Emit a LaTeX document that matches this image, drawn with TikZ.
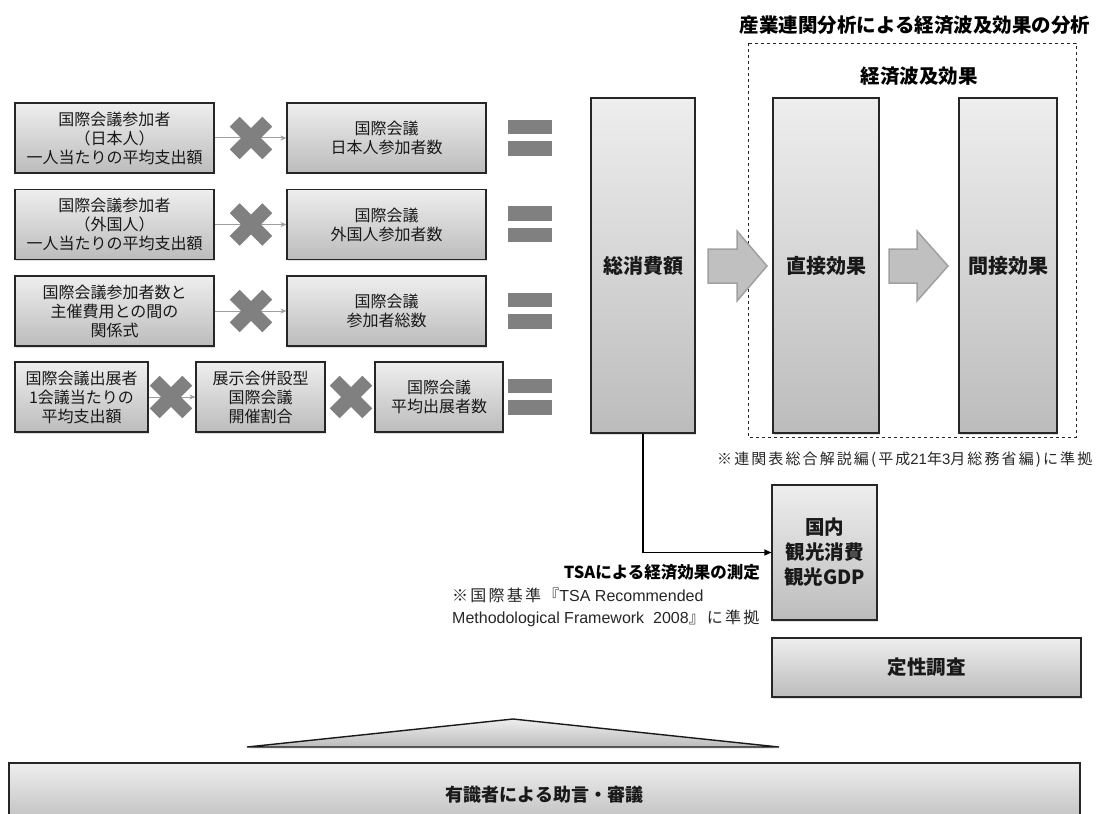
\documentclass[tikz,border=0pt]{standalone}
\usepackage{fontspec}
\setmainfont{Noto Sans CJK JP}
\newfontfamily\lat{Liberation Sans}
\newfontfamily\jpsp{Noto Sans CJK JP}[LetterSpace=14]
\usetikzlibrary{shadows,arrows.meta}
\definecolor{boxtop}{RGB}{238,238,238}
\definecolor{boxbot}{RGB}{188,188,188}
\definecolor{markgray}{RGB}{128,128,128}
\definecolor{linegray}{RGB}{158,158,158}
\definecolor{arrowfill}{RGB}{192,192,192}
\definecolor{arrowedge}{RGB}{160,160,160}
\tikzset{
  gbox/.style={draw=black!85, line width=1.1pt, top color=boxtop, bottom color=boxbot,
    drop shadow={opacity=0.25, shadow xshift=1.2pt, shadow yshift=-1.5pt},
    inner sep=0pt, align=center, text=black!90},
  smalltxt/.style={font=\fontsize{16}{19}\selectfont},
  bigtxt/.style={font=\fontsize{20}{25}\selectfont\bfseries},
  eqbar/.style={fill=markgray, draw=none, minimum width=44pt, minimum height=14.5pt, inner sep=0pt},
  rowline/.style={draw=linegray, line width=1pt, -{Stealth[length=6pt,width=5pt]}},
  conn/.style={draw=black, line width=1.1pt, -{Triangle[length=7pt,width=6pt]}},
  blockarrow/.style={fill=arrowfill, draw=arrowedge, line width=1.5pt, line join=miter},
  xmark/.pic={
    \fill[markgray, rotate=45] (-23,-7) rectangle (23,7);
    \fill[markgray, rotate=-45] (-23,-7) rectangle (23,7);
  }
}
\begin{document}
\begin{tikzpicture}[x=1pt,y=-1pt]
\useasboundingbox (0,0) rectangle (1115,813);
\clip (0,0) rectangle (1115,813);

% ---- left rows ----
\node[gbox, smalltxt, minimum width=199pt, minimum height=70pt] (r1a) at (114.5,138) {国際会議参加者\\（日本人）\\一人当たりの平均支出額};
\node[gbox, smalltxt, minimum width=199pt, minimum height=70pt] (r1b) at (386.5,138) {国際会議\\日本人参加者数};
\node[gbox, smalltxt, minimum width=199pt, minimum height=70pt] (r2a) at (114.5,224.5) {国際会議参加者\\（外国人）\\一人当たりの平均支出額};
\node[gbox, smalltxt, minimum width=199pt, minimum height=70pt] (r2b) at (386.5,224.5) {国際会議\\外国人参加者数};
\node[gbox, smalltxt, minimum width=199pt, minimum height=70pt] (r3a) at (114.5,311) {国際会議参加者数と\\主催費用との間の\\関係式};
\node[gbox, smalltxt, minimum width=199pt, minimum height=70pt] (r3b) at (386.5,311) {国際会議\\参加者総数};
\node[gbox, smalltxt, minimum width=133pt, minimum height=70pt] (r4a) at (81.5,397) {国際会議出展者\\1会議当たりの\\平均支出額};
\node[gbox, smalltxt, minimum width=129pt, minimum height=70pt] (r4b) at (260.5,397) {展示会併設型\\国際会議\\開催割合};
\node[gbox, smalltxt, minimum width=128pt, minimum height=70pt] (r4c) at (439,397) {国際会議\\平均出展者数};

\draw[rowline] (r1a.east) -- (r1b.west);
\draw[rowline] (r2a.east) -- (r2b.west);
\draw[rowline] (r3a.east) -- (r3b.west);
\draw[rowline] (r4a.east) -- (r4b.west);

\pic at (251,138) {xmark};
\pic at (251,224.5) {xmark};
\pic at (251,311) {xmark};
\pic at (171,397) {xmark};
\pic at (351,397) {xmark};

% equals signs
\node[eqbar] (e1t) at (530,127) {};
\node[eqbar] (e1b) at (530,148.5) {};
\node[eqbar] (e2t) at (530,213.5) {};
\node[eqbar] (e2b) at (530,235) {};
\node[eqbar] (e3t) at (530,300) {};
\node[eqbar] (e3b) at (530,321.5) {};
\node[eqbar] (e4t) at (530,386) {};
\node[eqbar] (e4b) at (530,407.5) {};

% ---- right part ----
\node[gbox, bigtxt, minimum width=104pt, minimum height=335pt] (sum) at (643,265.5) {総消費額};
\draw[dashed, line width=0.9pt, black!85] (748,43) rectangle (1076,437);
\node[font=\fontsize{19.5}{24}\selectfont\bfseries] (title) at (915,25) {産業連関分析による経済波及効果の分析};
\node[font=\fontsize{19.5}{24}\selectfont\bfseries] (ripple) at (919,76) {経済波及効果};
\node[gbox, bigtxt, minimum width=106pt, minimum height=335pt] (direct) at (826,265.5) {直接効果};
\node[gbox, bigtxt, minimum width=98pt, minimum height=335pt] (indirect) at (1008,265.5) {間接効果};

\draw[blockarrow] (708,249) -- (737,249) -- (737,231) -- (767,266) -- (737,301) -- (737,283) -- (708,283) -- cycle;
\draw[blockarrow] (889,249) -- (917,249) -- (917,231) -- (948,266) -- (917,301) -- (917,283) -- (889,283) -- cycle;

\node[anchor=west, font=\fontsize{15}{18}\selectfont\jpsp, text=black!85, inner sep=0pt] (note1) at (717,460) {※連関表総合解説編(平成{\lat 21}年{\lat 3}月総務省編)に準拠};

\node[gbox, font=\fontsize{19.5}{25}\selectfont\bfseries, minimum width=105pt, minimum height=135pt] (tsa) at (824.5,552.5) {国内\\観光消費\\観光GDP};
\draw[conn] (sum.south) |- (tsa.west);

\node[anchor=east, font=\fontsize{16.5}{20}\selectfont\bfseries, inner sep=0pt] (tsalabel) at (760,572) {TSAによる経済効果の測定};
\node[anchor=west, align=left, font=\fontsize{16}{22}\selectfont, text=black!85, inner sep=0pt] (note2) at (452,607)
  {{\jpsp ※国際基準『}{\lat TSA Recommended}\\{\lat Methodological Framework\ \ 2008}{\jpsp 』に準拠}};

\node[gbox, font=\fontsize{19.5}{24}\selectfont\bfseries, minimum width=309pt, minimum height=59pt] (qual) at (926.5,667.5) {定性調査};

% ---- bottom ----
\draw[line width=1.4pt, black!90, top color=boxtop, bottom color=boxbot,
  drop shadow={opacity=0.25, shadow xshift=1.2pt, shadow yshift=-1.5pt}]
  (247,747) -- (513,719) -- (779,747) -- cycle;
\node[gbox, font=\fontsize{18}{22}\selectfont\bfseries, minimum width=1071pt, minimum height=64pt] (expert) at (544.5,795) {有識者による助言・審議};
\end{tikzpicture}
\end{document}
